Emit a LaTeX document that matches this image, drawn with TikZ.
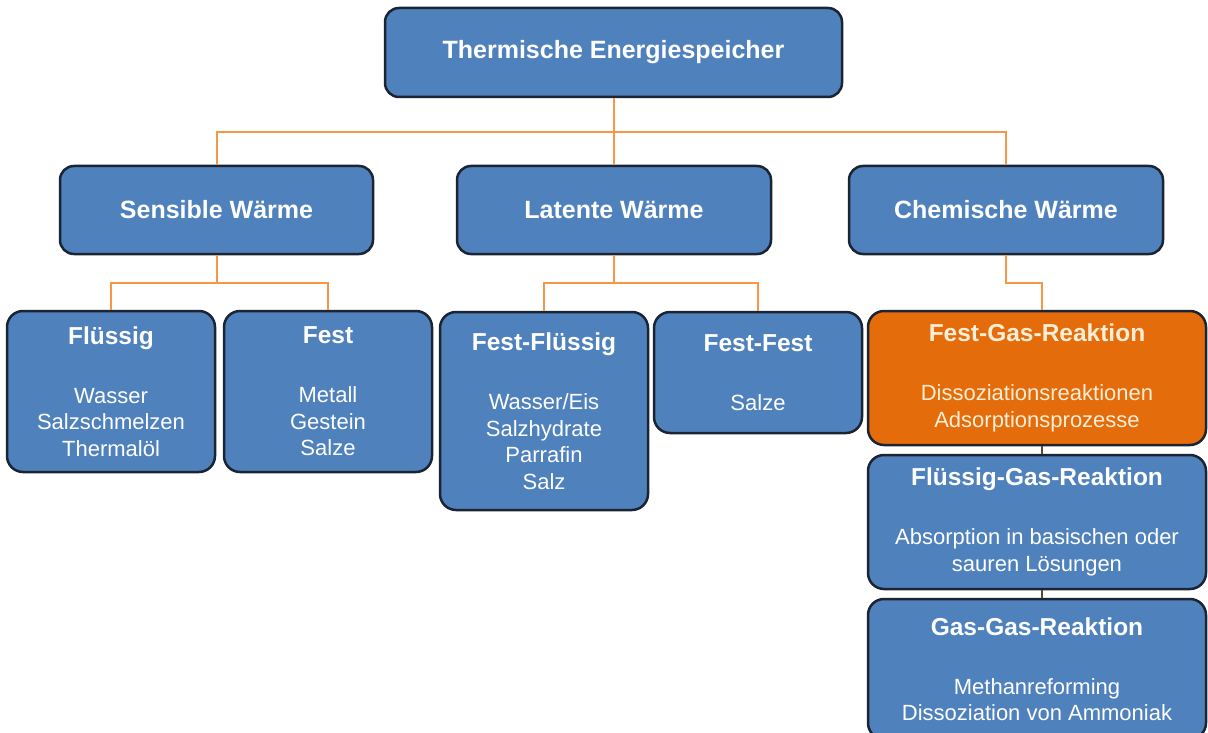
\documentclass[tikz,border=0pt]{standalone}
\usepackage{fontspec}
\setmainfont{Liberation Sans}
\usepackage{tikz}
\usetikzlibrary{calc}
\definecolor{boxblue}{RGB}{79,129,189}
\definecolor{boxorange}{RGB}{228,108,10}
\definecolor{linkorange}{RGB}{247,150,70}
\definecolor{rim}{RGB}{26,36,50}
\newcommand\hd[1]{{\bfseries\fontsize{24.5}{28}\selectfont #1}}
\tikzset{
 box/.style={draw=rim,line width=2.5pt,fill=boxblue,text=white,rounded corners=16pt,
  align=center,inner sep=0pt,font=\fontsize{22}{26.5}\selectfont},
 head/.style={box,rounded corners=14pt,font=\bfseries\fontsize{25}{28}\selectfont},
 link/.style={draw=linkorange,line width=2pt},
}

\begin{document}
\begin{tikzpicture}[x=1pt,y=-1pt]
\useasboundingbox (0,0) rectangle (1208,733);
\clip (0,0) rectangle (1208,733);
\fill[white] (0,0) rectangle (1208,733);
\node[head,minimum width=457,minimum height=89] (tes) at (613.5,52.5) {Thermische Energiespeicher};
\node[head,minimum width=313,minimum height=88] (sens) at (216.5,210) {Sensible Wärme};
\node[head,minimum width=314,minimum height=88] (lat) at (614,210) {Latente Wärme};
\node[head,minimum width=314,minimum height=88] (chem) at (1006,210) {Chemische Wärme};
\node[box,minimum width=208,minimum height=161] (fl) at (111,391.5)
 {\hd{Flüssig}\\[32.5pt]Wasser\\Salzschmelzen\\Thermalöl};
\node[box,minimum width=208,minimum height=161] (fe) at (328,391.5)
 {\hd{Fest}\\[32.5pt]Metall\\Gestein\\Salze};
\node[box,minimum width=208,minimum height=198] (ffl) at (544,411)
 {\hd{Fest-Flüssig}\\[32.5pt]Wasser/Eis\\Salzhydrate\\Parrafin\\Salz};
\node[box,minimum width=208,minimum height=121] (ffe) at (758,372.5)
 {\hd{Fest-Fest}\\[32.5pt]Salze};
\node[box,fill=boxorange,text={rgb,255:red,255;green,238;blue,215},minimum width=338,minimum height=134] (fgr) at (1037,378)
 {\hd{Fest-Gas-Reaktion}\\[32.5pt]Dissoziationsreaktionen\\Adsorptionsprozesse};
\node[box,minimum width=338,minimum height=134] (flgr) at (1037,522)
 {\hd{Flüssig-Gas-Reaktion}\\[32.5pt]Absorption in basischen oder\\sauren Lösungen};
\node[box,minimum width=338,minimum height=140] (ggr) at (1037,669)
 {\hd{Gas-Gas-Reaktion}\\[32.5pt]Methanreforming\\Dissoziation von Ammoniak};
\coordinate (j0) at (613.5,132);
\coordinate (j1) at (216.5,283);
\coordinate (j2) at (614,283);
\coordinate (j3) at (1042,283);
\draw[link] (tes.south) -- (j0);
\foreach\k in {sens,lat,chem}
 \draw[link] (j0) -| (\k.north);
\draw[link] (sens.south) -- (j1);
\foreach\k in {fl,fe}
 \draw[link] (j1) -| (\k.north);
\draw[link] (lat.south) -- (j2);
\foreach\k in {ffl,ffe}
 \draw[link] (j2) -| (\k.north);
\draw[link] (chem.south) |- (j3) -- (j3 |- fgr.north);
\draw[rim!70!linkorange,line width=2pt] (fgr.south -| j3) -- (flgr.north -| j3);
\draw[rim!70!linkorange,line width=2pt] (flgr.south -| j3) -- (ggr.north -| j3);
\end{tikzpicture}
\end{document}
